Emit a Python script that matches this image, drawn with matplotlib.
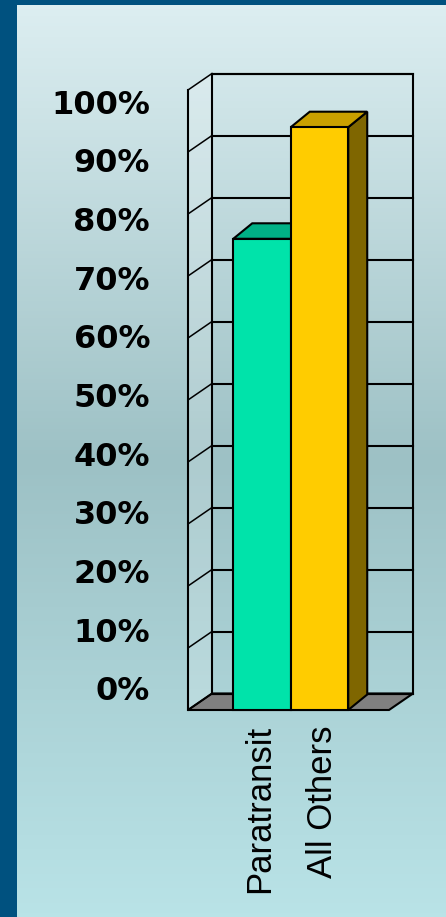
import numpy as np
import matplotlib
matplotlib.use("Agg")
import matplotlib.pyplot as plt
from matplotlib.patches import Polygon, Rectangle
from matplotlib.colors import LinearSegmentedColormap

# ---- data ----
categories = ["Paratransit", "All Others"]
values = [76, 94]
tick_values = [0, 10, 20, 30, 40, 50, 60, 70, 80, 90, 100]
tick_labels = [f"{v}%" for v in tick_values]

front_colors = ["#00E3AA", "#FFCC00"]
top_colors = ["#00B186", "#C9A000"]
side_colors = ["#008A68", "#7F6600"]

W, H = 446, 917
fig = plt.figure(figsize=(W / 100, H / 100), dpi=100)
fig.patch.set_facecolor("#00517F")

# background gradient panel (pixel coordinates)
bg = fig.add_axes([0, 0, 1, 1])
bg.set_xlim(0, W)
bg.set_ylim(H, 0)
bg.axis("off")
cmap = LinearSegmentedColormap.from_list(
    "bg", [(0, "#DCEEF1"), (0.5, "#9DC1C5"), (1.0, "#B9E3E7")])
grad = np.linspace(0, 1, 256).reshape(-1, 1)
bg.imshow(grad, cmap=cmap, aspect="auto", extent=[17, W, H, 5], zorder=0)

# main axes = front plane of 3D chart
L, R, T, B = 188, 389, 90, 710
ax = fig.add_axes([L / W, (H - B) / H, (R - L) / W, (B - T) / H])
ax.patch.set_alpha(0)
x0, x1 = -1.287, 2.209
ax.set_xlim(x0, x1)
ax.set_ylim(0, 100)
ax.axis("off")

sx = (R - L) / (x1 - x0)     # px per x unit
sy = (B - T) / 100.0         # px per percent
DX, DY = 24 / sx, 16.5 / sy  # wall depth in data units
bdx, bdy = 19 / sx, 15.5 / sy  # bar depth in data units

lw = 1.5
k = dict(clip_on=False)

# left wall (slightly lighter)
ax.add_patch(Polygon([(x0, 0), (x0 + DX, DY), (x0 + DX, 100 + DY), (x0, 100)],
                     closed=True, facecolor="white", alpha=0.18, edgecolor="none", zorder=1, **k))
# floor
ax.add_patch(Polygon([(x0, 0), (x1, 0), (x1 + DX, DY), (x0 + DX, DY)],
                     closed=True, facecolor="#808080", edgecolor="black", lw=lw, zorder=2, **k))
# back wall outline
ax.add_patch(Rectangle((x0 + DX, DY), x1 - x0, 100, fill=False, edgecolor="black", lw=lw, zorder=2, **k))
# gridlines on back wall and left wall
for v in tick_values:
    ax.plot([x0 + DX, x1 + DX], [v + DY, v + DY], color="black", lw=lw, zorder=2, **k)
    ax.plot([x0, x0 + DX], [v, v + DY], color="black", lw=1.1, zorder=2, **k)
# left wall front edge
ax.plot([x0, x0], [0, 100], color="black", lw=lw, zorder=2, **k)

# bars
for i, (v, fc, tc, scol) in enumerate(zip(values, front_colors, top_colors, side_colors)):
    z = 3 + i
    xl, xr = i - 0.5, i + 0.5
    ax.add_patch(Polygon([(xr, 0), (xr + bdx, bdy), (xr + bdx, v + bdy), (xr, v)],
                         closed=True, facecolor=scol, edgecolor="black", lw=lw, zorder=z, **k))
    ax.add_patch(Polygon([(xl, v), (xr, v), (xr + bdx, v + bdy), (xl + bdx, v + bdy)],
                         closed=True, facecolor=tc, edgecolor="black", lw=lw, zorder=z, **k))
    ax.add_patch(Rectangle((xl, 0), 1, v, facecolor=fc, edgecolor="black", lw=lw, zorder=z, **k))

# category labels
label_shift = [-0.04, 0.06]
for i, c in enumerate(categories):
    ax.text(i + label_shift[i], -15 / sy, c, rotation=90, ha="center", va="top",
            fontsize=25, family="Liberation Sans", color="black", **k)

# y tick labels (in bg pixel coordinates)
lab0, lab_step = 692, 5.87
for v, t in zip(tick_values, tick_labels):
    bg.text(150, lab0 - v * lab_step, t, ha="right", va="center",
            fontsize=23, fontweight="bold", family="DejaVu Sans", color="black")

fig.savefig("out.png", dpi=100, facecolor=fig.get_facecolor())
